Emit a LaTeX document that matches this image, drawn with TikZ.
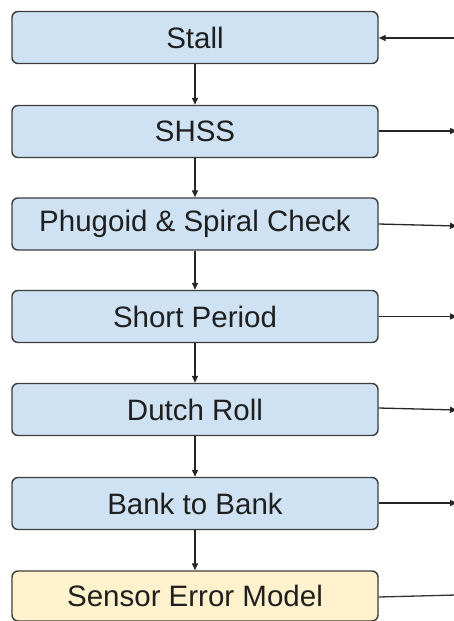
\documentclass[tikz,border=0pt]{standalone}
\usepackage{fontspec}
\setmainfont{Liberation Sans}
\usetikzlibrary{arrows.meta}
\definecolor{boxblue}{HTML}{CFE2F3}
\definecolor{boxyellow}{HTML}{FFF2CC}
\definecolor{edgegray}{HTML}{3C3C3C}
\tikzset{
  stagebox/.style={draw=edgegray, line width=1.4pt, rounded corners=6pt,
    minimum width=366pt, minimum height=52pt, inner sep=0pt,
    font=\fontsize{29.5}{35}\selectfont, text=black!88},
  bluebox/.style={stagebox, fill=boxblue},
  yellowbox/.style={stagebox, fill=boxyellow},
  flow/.style={line width=1.3pt, draw=black!85, -{Triangle[length=7pt,width=6pt]}},
  plainline/.style={line width=1.3pt, draw=black!80}
}
\begin{document}
\begin{tikzpicture}[x=1pt,y=-1pt]
\useasboundingbox (0,0) rectangle (454,621);
\node[bluebox] (stall) at (195,37.5) {Stall};
\node[bluebox] (shss) at (195,131.5) {SHSS};
\node[bluebox] (phug) at (195,224) {Phugoid \& Spiral Check};
\node[bluebox] (short) at (195,316.5) {Short Period};
\node[bluebox] (dutch) at (195,409.5) {Dutch Roll};
\node[bluebox] (bank) at (195,503.5) {Bank to Bank};
\node[yellowbox, minimum height=50pt] (sensor) at (195,596) {Sensor Error Model};

\draw[flow] (stall) -- (shss);
\draw[flow] (shss) -- (phug);
\draw[flow] (phug) -- (short);
\draw[flow] (short) -- (dutch);
\draw[flow] (dutch) -- (bank);
\draw[flow] (bank) -- (sensor);

\coordinate (inS) at (456,38);
\coordinate (outA) at (457,131);
\coordinate (outB) at (457,226);
\coordinate (outC) at (457,316.5);
\coordinate (outD) at (457,410);
\coordinate (outE) at (457,503);
\coordinate (outF) at (456,595);

\draw[flow] (inS) -- (stall.east |- inS);
\draw[flow] (shss.east |- outA) -- (outA);
\draw[flow] (phug.east) -- (outB);
\draw[flow] (short.east |- outC) -- (outC);
\draw[flow] (dutch.east |- 0,408) -- (outD);
\draw[flow] (bank.east |- outE) -- (outE);
\draw[plainline] (sensor.east |- 0,597) -- (outF);
\end{tikzpicture}
\end{document}
